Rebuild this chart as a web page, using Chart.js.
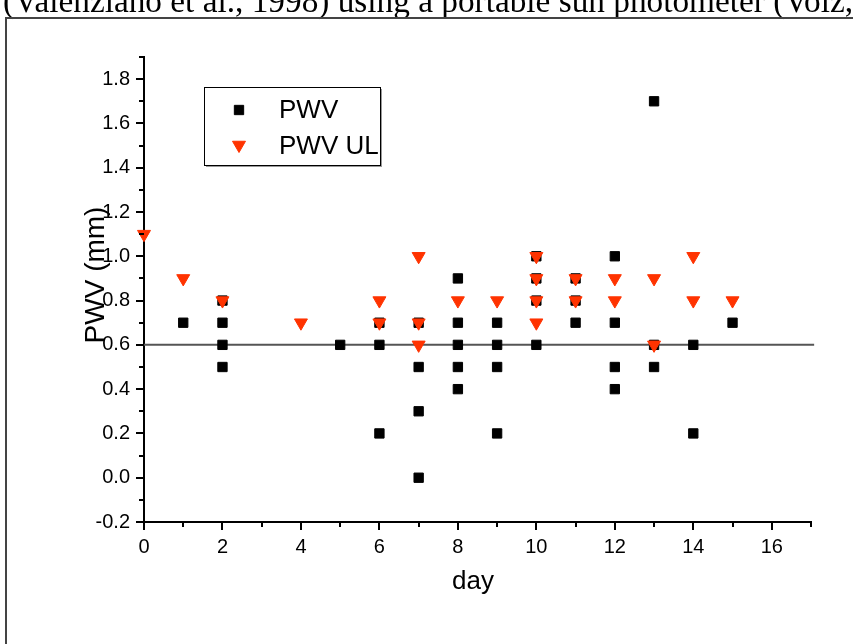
<!DOCTYPE html>
<html>
<head>
<meta charset="utf-8">
<script src="https://cdn.jsdelivr.net/npm/chart.js@4.4.1/dist/chart.umd.min.js"></script>
<style>
  html, body { margin: 0; padding: 0; background: #fff; }
  #wrap { position: relative; width: 853px; height: 644px; overflow: hidden; }
</style>
</head>
<body>
<div id="wrap"><canvas id="chart" width="853" height="644"></canvas></div>
<script>
// PWV measurements (black squares)
const pwvDays = [1, 2, 2, 2, 2, 5, 6, 6, 6, 7, 7, 7, 7, 8, 8, 8, 8, 8, 9, 9, 9, 9, 10, 10, 10, 10, 11, 11, 11, 12, 12, 12, 12, 13, 13, 13, 14, 14, 15];
const pwvVals = [0.7, 0.8, 0.7, 0.6, 0.5, 0.6, 0.7, 0.6, 0.2, 0.7, 0.5, 0.3, 0.0, 0.9, 0.7, 0.6, 0.5, 0.4, 0.7, 0.6, 0.5, 0.2, 1.0, 0.9, 0.8, 0.6, 0.9, 0.8, 0.7, 1.0, 0.7, 0.5, 0.4, 1.7, 0.6, 0.5, 0.6, 0.2, 0.7];
// PWV upper limits (red down triangles)
const ulDays = [0, 1, 2, 4, 6, 6, 7, 7, 7, 8, 9, 10, 10, 10, 10, 11, 11, 12, 12, 13, 13, 14, 14, 15];
const ulVals = [1.1, 0.9, 0.8, 0.7, 0.8, 0.7, 1.0, 0.7, 0.6, 0.8, 0.8, 1.0, 0.9, 0.8, 0.7, 0.9, 0.8, 0.9, 0.8, 0.9, 0.6, 1.0, 0.8, 0.8];
// reference level line
const refDays = [0, 17.08];
const refVals = [0.6, 0.6];

const seriesNames = ['PWV', 'PWV UL'];
const xTitle = 'day';
const yTitle = 'PWV (mm)';
const topText = '(Valenziano et al., 1998) using a portable sun photometer (Volz,';

const RED = '#ff3300';
const FONT = "Arial, 'Liberation Sans', sans-serif";
const SQ_R = 6.6, TRI_R = 7.5;

const pts = (xs, ys) => xs.map((x, i) => ({ x, y: ys[i] }));

// page decorations, minor ticks, axis titles and legend box
const decor = {
  id: 'decor',
  beforeDraw(chart) {
    const ctx = chart.ctx;
    ctx.save();
    ctx.fillStyle = '#000';
    ctx.font = "26px 'Liberation Serif', 'Times New Roman', serif";
    const w = ctx.measureText(topText).width;
    const size = 26 * 849 / w;
    ctx.font = size.toFixed(1) + "px 'Liberation Serif', 'Times New Roman', serif";
    ctx.textBaseline = 'alphabetic';
    ctx.fillText(topText, 3, 12);
    ctx.strokeStyle = '#444';
    ctx.lineWidth = 2;
    ctx.beginPath();
    ctx.moveTo(6, 700); ctx.lineTo(6, 18); ctx.lineTo(900, 18);
    ctx.stroke();
    ctx.restore();
  },
  afterDraw(chart) {
    const ctx = chart.ctx;
    const xs = chart.scales.x, ys = chart.scales.y;
    ctx.save();
    ctx.strokeStyle = '#000';
    ctx.lineWidth = 2;
    ctx.beginPath();
    for (let i = -2; i <= 19; i++) {
      const py = Math.round(ys.getPixelForValue(i / 10));
      const len = (i % 2 === 0) ? 8 : 5;
      ctx.moveTo(xs.left, py); ctx.lineTo(xs.left - len, py);
    }
    for (let d = 0; d <= 17; d++) {
      const px = Math.round(xs.getPixelForValue(d));
      const len = (d % 2 === 0) ? 8 : 5;
      ctx.moveTo(px, ys.bottom); ctx.lineTo(px, ys.bottom + len);
    }
    ctx.stroke();

    // axis titles
    ctx.fillStyle = '#000';
    ctx.textAlign = 'center';
    ctx.textBaseline = 'middle';
    ctx.font = '26px ' + FONT;
    ctx.fillText(xTitle, 473, 582);
    ctx.font = '28px ' + FONT;
    ctx.translate(96, 275);
    ctx.rotate(-Math.PI / 2);
    ctx.fillText(yTitle, 0, 0);
    ctx.setTransform(1, 0, 0, 1, 0, 0);

    // legend box
    ctx.fillStyle = '#999';
    ctx.fillRect(206, 89, 176, 78);
    ctx.fillStyle = '#fff';
    ctx.fillRect(204, 87, 176, 78);
    ctx.strokeStyle = '#000';
    ctx.lineWidth = 1;
    ctx.strokeRect(204.5, 87.5, 176, 78);
    const dsPwv = chart.data.datasets[1], dsUl = chart.data.datasets[0];
    ctx.fillStyle = '#000'; ctx.strokeStyle = '#000';
    Chart.helpers.drawPoint(ctx, { pointStyle: 'rect', radius: SQ_R, rotation: 0, borderWidth: 1 }, 239, 110);
    ctx.fillStyle = RED; ctx.strokeStyle = RED;
    Chart.helpers.drawPoint(ctx, { pointStyle: 'triangle', radius: TRI_R, rotation: 180, borderWidth: 1 }, 239, 145);
    ctx.fillStyle = '#000';
    ctx.textAlign = 'left';
    ctx.font = '26px ' + FONT;
    ctx.fillText(dsPwv.label, 279, 111);
    ctx.fillText(dsUl.label, 279, 147);
    ctx.restore();
  }
};

new Chart(document.getElementById('chart'), {
  type: 'scatter',
  data: {
    datasets: [
      {
        label: seriesNames[1],
        data: pts(ulDays, ulVals),
        pointStyle: 'triangle',
        rotation: 180,
        pointRadius: TRI_R,
        borderWidth: 1,
        backgroundColor: RED,
        borderColor: RED,
        clip: false,
        order: 0
      },
      {
        label: seriesNames[0],
        data: pts(pwvDays, pwvVals),
        pointStyle: 'rect',
        pointRadius: SQ_R,
        borderWidth: 1,
        backgroundColor: '#000',
        borderColor: '#000',
        clip: false,
        order: 1
      },
      {
        type: 'line',
        label: 'ref',
        data: pts(refDays, refVals),
        borderColor: '#555',
        borderWidth: 2,
        pointRadius: 0,
        fill: false,
        clip: false,
        order: 2
      }
    ]
  },
  options: {
    responsive: false,
    animation: false,
    devicePixelRatio: 1,
    layout: { padding: { left: 80, right: 42, top: 57, bottom: 82 } },
    plugins: {
      legend: { display: false },
      tooltip: { enabled: false }
    },
    scales: {
      x: {
        type: 'linear',
        min: 0, max: 17,
        afterFit: (s) => { s.height = 40; },
        grid: { display: false, drawTicks: false },
        border: { display: true, color: '#000', width: 2 },
        ticks: {
          stepSize: 1,
          autoSkip: false,
          maxRotation: 0,
          padding: 13,
          color: '#000',
          font: { family: FONT, size: 20 },
          callback: (v) => (v % 2 === 0 ? String(v) : '')
        }
      },
      y: {
        min: -0.2, max: 1.9,
        afterFit: (s) => { s.width = 64; },
        grid: { display: false, drawTicks: false },
        border: { display: true, color: '#000', width: 2 },
        ticks: {
          stepSize: 0.1,
          autoSkip: false,
          padding: 14,
          color: '#000',
          font: { family: FONT, size: 20 },
          callback: (v) => (Math.round(v * 10) % 2 === 0 ? v.toFixed(1) : '')
        }
      }
    }
  },
  plugins: [decor]
});
</script>
</body>
</html>
